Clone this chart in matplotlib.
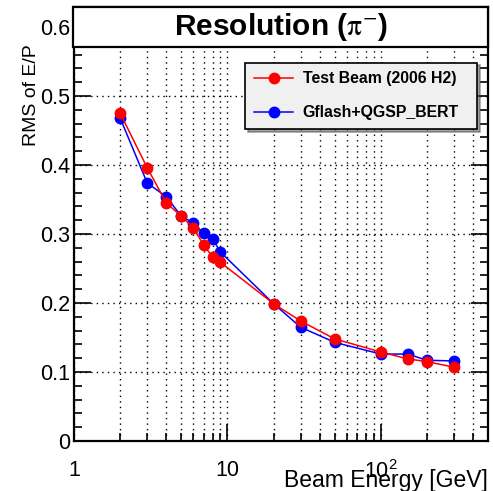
import matplotlib
matplotlib.use("Agg")
import matplotlib.pyplot as plt
from matplotlib.ticker import FixedLocator, FixedFormatter, MultipleLocator, NullFormatter
from matplotlib.patches import Rectangle

plt.rcParams["font.family"] = ["Liberation Sans", "DejaVu Sans"]
plt.rcParams["mathtext.fontset"] = "stix"

energy = [2, 3, 4, 5, 6, 7, 8, 9, 20, 30, 50, 100, 150, 200, 300]
test_beam = [0.475, 0.396, 0.345, 0.326, 0.309, 0.284, 0.267, 0.259,
             0.199, 0.174, 0.148, 0.129, 0.119, 0.115, 0.107]
gflash = [0.468, 0.374, 0.354, 0.326, 0.316, 0.301, 0.293, 0.274,
          0.199, 0.165, 0.143, 0.126, 0.126, 0.117, 0.116]

W, H = 493, 491
fig = plt.figure(figsize=(W / 100, H / 100), dpi=100)
# frame: x 74..488 px, y 7..441 px
ax = fig.add_axes([74 / W, (H - 441) / H, 414 / W, 434 / H])

ax.plot(energy, test_beam, color="red", lw=1.1, marker="o", ms=7.5,
        label="Test Beam (2006 H2)", zorder=4)
ax.plot(energy, gflash, color="blue", lw=1.1, marker="o", ms=7.5,
        label="Gflash+QGSP_BERT", zorder=3)

ax.set_xscale("log")
ax.set_xlim(1, 500)
ax.set_ylim(0, 0.629)

# ROOT-like ticks
ax.xaxis.set_major_locator(FixedLocator([1, 10, 100]))
ax.xaxis.set_major_formatter(FixedFormatter(["1", "10", r"$\mathregular{10^{2}}$"]))
minors = [m * d for d in (1, 10, 100) for m in range(2, 10) if m * d <= 500]
ax.xaxis.set_minor_locator(FixedLocator(minors))
ax.xaxis.set_minor_formatter(NullFormatter())
ax.yaxis.set_minor_locator(MultipleLocator(0.02))
ax.set_yticks([0, 0.1, 0.2, 0.3, 0.4, 0.5, 0.6])
ax.set_yticklabels(["0", "0.1", "0.2", "0.3", "0.4", "0.5", "0.6"])

ax.tick_params(axis="both", which="both", direction="in", top=True, right=True,
               labelsize=15.5, width=1.2)
ax.tick_params(axis="y", which="major", length=12, pad=3)
ax.tick_params(axis="y", which="minor", length=6)
ax.tick_params(axis="x", which="major", length=12, pad=14)
ax.tick_params(axis="x", which="minor", length=6)

ax.grid(True, which="both", axis="x", color="black", ls=(0, (1, 3)), lw=1.0)
ax.grid(True, which="major", axis="y", color="black", ls=(0, (1, 3)), lw=1.0)
for s in ax.spines.values():
    s.set_linewidth(1.6)

ax.set_xlabel("Beam Energy [GeV]", fontsize=16.5, ha="right", x=1.0, labelpad=-10)
fig.text(31 / W, 1 - 146 / H, "RMS of E/P", rotation=90, ha="center", va="bottom",
         fontsize=14, zorder=12)

# legend, gray fill
leg = ax.legend(loc="upper left", bbox_to_anchor=((245 - 74) / 414, (441 - 67) / 434,
                                                  232 / 414, 0.01),
                mode="expand", borderaxespad=0,
                prop={"weight": "bold", "size": 11.4}, fancybox=False,
                edgecolor="black", facecolor="#f0f0f0", framealpha=1,
                borderpad=0.55, labelspacing=1.2, handlelength=2.5,
                handletextpad=0.6, shadow=True)
leg.get_frame().set_linewidth(1.2)

# title box
fig.patches.append(Rectangle((73 / W, 1 - 47 / H), 415 / W, 40 / H, transform=fig.transFigure,
                             facecolor="white", edgecolor="black", lw=1.6, zorder=10))
fig.text(281 / W, 1 - 27 / H, r"Resolution ($\mathrm{\pi}^{-}$)", ha="center", va="center",
         fontsize=21.5, fontweight="bold", zorder=11)

fig.savefig("out.png", dpi=100)
